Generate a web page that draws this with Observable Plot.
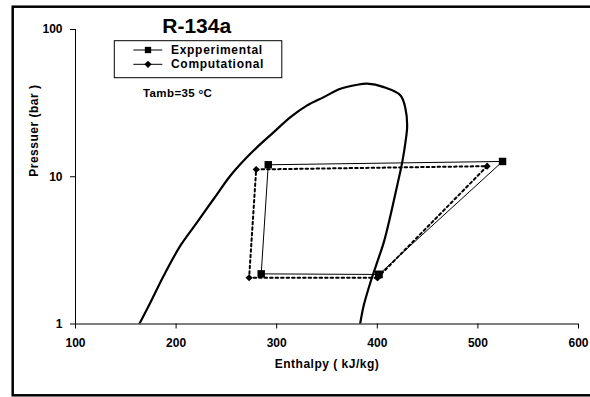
<!DOCTYPE html>
<html><head><meta charset="utf-8">
<script src="https://cdn.jsdelivr.net/npm/d3@7"></script>
<script src="https://cdn.jsdelivr.net/npm/@observablehq/plot@0.6"></script>
<style>
body{margin:0;background:#fff}
#chart{width:590px;height:397px;overflow:hidden;position:relative}
</style>
</head><body><div id="chart"></div>
<script>
// Tick labels
const xTicks = [100, 200, 300, 400, 500, 600];
const yTicks = [1, 10, 100];

// Saturation dome (R-134a), enthalpy kJ/kg and pressure bar
const domeH = [163.4, 174.6, 187.8, 204.4, 221.0, 237.5, 254.1, 267.3, 280.6, 297.1, 313.7, 330.3, 346.8, 363.4, 380.0, 390.0, 406.5, 423.1, 428.0, 429.7, 428.0, 424.8, 419.8, 413.1, 406.5, 399.9, 393.2, 386.5, 382.9];
const domeP = [1.0, 1.406, 2.136, 3.415, 4.917, 7.088, 10.20, 12.90, 15.89, 20.09, 25.41, 30.51, 34.74, 39.62, 42.17, 42.84, 40.62, 35.67, 28.97, 22.31, 17.18, 12.57, 8.73, 5.46, 3.60, 2.63, 1.92, 1.336, 1.0];

// Experimental cycle
const expH = [401.5, 524.5, 291.6, 284.6, 401.5];
const expP = [2.17, 12.7, 12.06, 2.19, 2.17];

// Computational cycle
const compH = [400.2, 509.2, 279.6, 272.6, 400.2];
const compP = [2.06, 11.8, 11.21, 2.06, 2.06];

const seriesNames = ["Expperimental", "Computational"];
const titleText = "R-134a";
const xLabel = "Enthalpy ( kJ/kg)";
const yLabel = "Pressuer (bar )";

const dome = domeH.map((h, i) => ({h, p: domeP[i]}));
const expD = expH.map((h, i) => ({h, p: expP[i]}));
const compD = compH.map((h, i) => ({h, p: compP[i]}));

const FONT = "'Liberation Sans', Arial, Helvetica, sans-serif";

const plot = Plot.plot({
  width: 590, height: 397,
  marginLeft: 75, marginRight: 12, marginTop: 29, marginBottom: 73.5,
  style: {fontFamily: FONT, fontSize: "12px", fontWeight: "bold", background: "#fff", color: "#000"},
  x: {domain: [100, 600]},
  y: {type: "log", domain: [1, 100]},
  marks: [
    Plot.axisX({ticks: xTicks, tickSize: 5, tickPadding: 9, tickFormat: d => String(d), label: null}),
    Plot.axisY({ticks: yTicks, tickSize: 5, tickPadding: 8, tickFormat: d => String(d), label: null}),
    Plot.ruleX([100], {stroke: "#000", strokeWidth: 1}),
    Plot.ruleY([1], {stroke: "#000", strokeWidth: 1}),
    Plot.line(dome, {x: "h", y: "p", curve: "catmull-rom", stroke: "#000", strokeWidth: 2.2, clip: true}),
    Plot.line(compD, {x: "h", y: "p", stroke: "#000", strokeWidth: 2, strokeDasharray: "2.5,3"}),
    Plot.line(expD, {x: "h", y: "p", stroke: "#000", strokeWidth: 1}),
    Plot.dot(expD, {x: "h", y: "p", symbol: "square", r: 4.2, fill: "#000", stroke: "none"}),
    Plot.dot(compD, {x: "h", y: "p", symbol: "diamond2", r: 3.2, fill: "#000", stroke: "none"}),
    Plot.text([xLabel], {frameAnchor: "bottom", dy: 44, fontSize: 12, fontWeight: "bold"}),
    Plot.text([yLabel], {frameAnchor: "left", rotate: -90, dx: -41, fontSize: 12, fontWeight: "bold"})
  ]
});
document.getElementById("chart").appendChild(plot);

const svg = d3.select(plot);

// Outer frame
svg.append("rect").attr("x", 12.7).attr("y", 6.7).attr("width", 600).attr("height", 388.6)
  .attr("fill", "none").attr("stroke", "#000").attr("stroke-width", 2.5);

// Title
svg.append("text").attr("x", 196.7).attr("y", 33.3).attr("text-anchor", "middle")
  .style("font-family", FONT).style("font-size", "21px").style("font-weight", "bold")
  .text(titleText);

// Legend
const lg = svg.append("g");
lg.append("rect").attr("x", 114.3).attr("y", 40.7).attr("width", 167.5).attr("height", 37)
  .attr("fill", "#fff").attr("stroke", "#000").attr("stroke-width", 1);
const rows = [{y: 50, sym: d3.symbolSquare, size: 40}, {y: 64.3, sym: d3.symbolDiamond2, size: 34}];
rows.forEach((r, i) => {
  lg.append("line").attr("x1", 133.3).attr("x2", 162.3).attr("y1", r.y).attr("y2", r.y)
    .attr("stroke", "#000").attr("stroke-width", 1);
  lg.append("path").attr("d", d3.symbol(r.sym, r.size)()).attr("transform", `translate(148,${r.y})`).attr("fill", "#000");
  lg.append("text").attr("x", 171).attr("y", r.y + 3.8).attr("text-anchor", "start")
    .style("font-family", FONT).style("font-size", "12px").style("font-weight", "bold")
    .style("letter-spacing", "0.7px").text(seriesNames[i]);
});

// Annotation
const ann = svg.append("text").attr("x", 143).attr("y", 96.5).attr("text-anchor", "start")
  .style("font-family", FONT).style("font-size", "11.5px").style("font-weight", "bold")
  .style("letter-spacing", "0.4px");
ann.append("tspan").text("Tamb=35 ");
ann.append("tspan").attr("dy", -3).style("font-size", "7px").text("o");
ann.append("tspan").attr("dy", 3).text("C");

// letter spacing for axis titles
svg.selectAll("text").filter(function(){ const t = this.textContent; return t === xLabel || t === yLabel; })
  .style("letter-spacing", "0.5px");
</script>
</body></html>
